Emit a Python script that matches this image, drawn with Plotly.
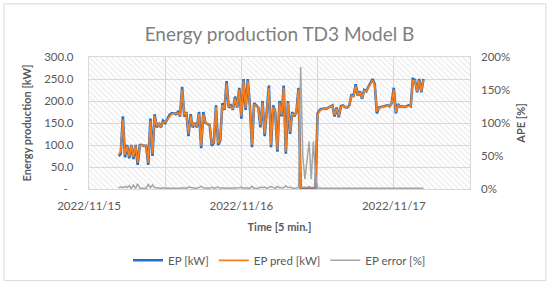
import pandas as pd
import plotly.graph_objects as go

# ---- data (20-min resolution) ----
start_time = "2022-11-15 04:40"
step = "20min"

ep_kw = [75, 80, 165, 72, 100, 70, 100, 68, 100, 55,
         100, 100, 98, 98, 55, 160, 75, 170, 140, 150,
         140, 155, 150, 160, 168, 172, 172, 170, 175, 165,
         232, 165, 175, 120, 170, 140, 150, 140, 175, 93,
         175, 150, 148, 145, 98, 105, 190, 100, 110, 195,
         180, 245, 185, 190, 180, 210, 185, 230, 160, 250,
         180, 250, 190, 95, 195, 190, 185, 140, 200, 120,
         175, 235, 95, 190, 175, 85, 200, 165, 235, 80,
         200, 125, 175, 165, 175, 230, 2, 1, 2, 1,
         3, 1, 2, 1, 172, 180, 182, 183, 182, 185,
         188, 190, 165, 185, 163, 188, 190, 186, 185, 190,
         215, 210, 238, 212, 222, 205, 225, 222, 232, 240,
         250, 238, 172, 185, 186, 187, 188, 190, 188, 195,
         230, 172, 193, 187, 188, 186, 188, 190, 188, 250,
         248, 220, 250, 220, 250]

ep_pred_kw = [78, 85, 158, 78, 98, 74, 99, 72, 99, 60,
              99, 100, 99, 97, 60, 155, 80, 166, 143, 148,
              142, 152, 152, 158, 166, 170, 172, 171, 173, 167,
              226, 170, 172, 125, 166, 143, 148, 142, 171, 98,
              170, 152, 147, 146, 102, 106, 186, 104, 112, 191,
              182, 240, 188, 188, 182, 206, 187, 226, 165, 246,
              184, 246, 188, 100, 192, 189, 185, 145, 196, 125,
              176, 230, 100, 187, 174, 90, 196, 168, 230, 85,
              196, 130, 172, 167, 174, 226, 3, 3, 3, 3,
              3, 3, 3, 3, 168, 178, 181, 182, 182, 184,
              187, 189, 168, 183, 166, 186, 189, 186, 185, 189,
              212, 210, 234, 213, 220, 207, 223, 222, 230, 238,
              247, 236, 176, 184, 186, 187, 188, 189, 188, 194,
              226, 175, 191, 187, 187, 186, 188, 189, 189, 246,
              246, 222, 247, 222, 248]

ep_error_pct = [2, 3, 2, 4, 2, 5, 1, 6, 1, 8,
                1, 1, 1, 1, 7, 2, 6, 2, 2, 1,
                1, 2, 1, 1, 1, 1, 0.5, 1, 1, 1,
                2, 2, 1, 3, 2, 2, 1, 1, 2, 4,
                2, 1, 1, 1, 3, 1, 2, 3, 1, 2,
                1, 2, 1, 1, 1, 2, 1, 2, 3, 1,
                2, 1, 1, 4, 1, 1, 1, 3, 2, 3,
                1, 2, 4, 2, 1, 4, 2, 2, 2, 5,
                2, 3, 1, 1, 1, 2, 185, 50, 15, 40,
                72, 15, 72, 20, 2, 1, 1, 1, 1, 1,
                1, 1, 2, 1, 2, 1, 1, 1, 1, 1,
                1, 1, 2, 1, 1, 1, 1, 1, 1, 1,
                1, 1, 2, 1, 1, 1, 1, 1, 1, 1,
                2, 2, 1, 1, 1, 1, 1, 1, 1, 2,
                1, 1, 1, 1, 1]

x_range = ["2022-11-15 00:00", "2022-11-17 12:00"]
y_left_range = [0, 300]
y_left_ticks = [0, 50, 100, 150, 200, 250, 300]
y_left_text = ["-\u00a0\u00a0", "50.0", "100.0", "150.0", "200.0", "250.0", "300.0"]
y_right_range = [0, 200]
y_right_ticks = [0, 50, 100, 150, 200]
y_right_text = ["0%", "50%", "100%", "150%", "200%"]

times = pd.date_range(start_time, periods=len(ep_kw), freq=step)

FONT = "Lato"
TXT = "#595959"
GRID = "#d9d9d9"

fig = go.Figure()

# hatched plot-area background
fig.add_trace(go.Scatter(
    x=[x_range[0], x_range[1], x_range[1], x_range[0], x_range[0]],
    y=[y_left_range[0], y_left_range[0], y_left_range[1], y_left_range[1], y_left_range[0]],
    fill="toself", mode="none", showlegend=False, hoverinfo="skip",
    fillcolor="rgba(0,0,0,0)",
    fillpattern=dict(shape="\\", fgcolor="#cccccc", bgcolor="rgba(0,0,0,0)",
                     size=4, solidity=0.25),
))

fig.add_trace(go.Scatter(x=times, y=ep_kw, name="EP [kW]", mode="lines",
                         line=dict(color="#1F6FCC", width=2.6)))
fig.add_trace(go.Scatter(x=times, y=ep_pred_kw, name="EP pred [kW]", mode="lines",
                         line=dict(color="#F47F20", width=1.8)))
fig.add_trace(go.Scatter(x=times, y=ep_error_pct, name="EP error [%]", mode="lines",
                         yaxis="y2", line=dict(color="#A5A5A5", width=1.5)))

fig.update_layout(
    width=550, height=287,
    margin=dict(l=89, r=80, t=57, b=96),
    paper_bgcolor="white", plot_bgcolor="white",
    font=dict(family=FONT, color=TXT, size=11.5),
    title=dict(text="Energy production TD3 Model B", x=0.5, xanchor="center",
               xref="paper", y=0.88, yanchor="middle",
               font=dict(family=FONT, size=19, color="#808080")),
    xaxis=dict(
        type="date", range=x_range, automargin=False,
        tick0="2022-11-15", dtick=86400000, tickformat="%Y/%m/%d",
        showgrid=True, gridcolor=GRID, gridwidth=1.3,
        minor=dict(dtick=43200000, showgrid=True, gridcolor=GRID, gridwidth=1.3),
        showline=True, linecolor=GRID, linewidth=1.3, mirror=True,
        ticks="", ticklabelstandoff=6,
        title=dict(text="<b>Time [5 min.]</b>", standoff=12,
                   font=dict(size=11, color=TXT)),
        zeroline=False,
    ),
    yaxis=dict(
        range=y_left_range, tickvals=y_left_ticks, ticktext=y_left_text,
        automargin=False,
        showgrid=True, gridcolor=GRID, gridwidth=1.3,
        showline=True, linecolor=GRID, linewidth=1.3, mirror=True,
        zeroline=False, ticks="", ticklabelstandoff=12,
        title=dict(text="<b>Energy production [kW]</b>", standoff=10,
                   font=dict(size=11, color=TXT)),
    ),
    yaxis2=dict(
        range=y_right_range, tickvals=y_right_ticks, ticktext=y_right_text,
        automargin=False,
        overlaying="y", side="right", showgrid=False, zeroline=False,
        ticks="", ticklabelstandoff=10,
        title=dict(text="<b>APE [%]</b>", standoff=8,
                   font=dict(size=11, color=TXT)),
    ),
    legend=dict(orientation="h", x=0.5, xanchor="center", y=-0.54, yanchor="middle",
                font=dict(size=11.5, color=TXT), itemwidth=30,
                bgcolor="rgba(0,0,0,0)"),
    shapes=[dict(type="rect", xref="paper", yref="paper",
                 x0=-0.223, x1=1.199, y0=-0.694, y1=1.403,
                 line=dict(color="#d9d9d9", width=1), fillcolor="rgba(0,0,0,0)",
                 layer="below")],
)

fig.write_html("out.html", config={"displayModeBar": False},
               post_script="document.body.style.margin='0';document.body.style.overflow='hidden';")
